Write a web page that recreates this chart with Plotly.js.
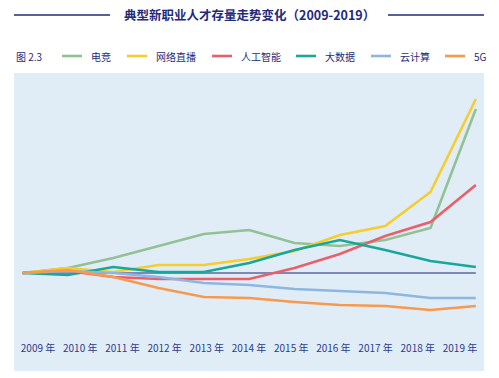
<!DOCTYPE html>
<html>
<head>
<meta charset="utf-8">
<script src="https://cdn.plot.ly/plotly-3.0.1.min.js"></script>
<style>html,body{margin:0;padding:0;background:#fff;}#chart{width:499px;height:378px;}</style>
</head>
<body>
<div id="chart"></div>
<script>
const years = [2009, 2010, 2011, 2012, 2013, 2014, 2015, 2016, 2017, 2018, 2019];
const tickLabels = ["2009 年", "2010 年", "2011 年", "2012 年", "2013 年", "2014 年", "2015 年", "2016 年", "2017 年", "2018 年", "2019 年"];
const seriesNames = ["电竞", "网络直播", "人工智能", "大数据", "云计算", "5G"];
const esports   = [0, 5, 15, 27, 39, 43, 30, 27, 33, 45, 164];
const livestream = [0, 5, 1, 8, 8, 14, 22, 38, 47, 81, 174];
const ai        = [0, 2, -4, -6, -6, -6, 5, 19, 37, 51, 88];
const bigdata   = [0, -2, 6, 1, 1, 10, 23, 33, 23, 12, 6];
const cloud     = [0, 2, 0, -4, -10, -12, -16, -18, -20, -25, -25];
const fiveG     = [0, 3, -4, -15, -24, -25, -29, -32, -33, -37, -33];
const colors = ["#93c196", "#f5cd2c", "#e9606b", "#18a79b", "#8db6e2", "#f59a4e"];
const navy = "#1f2b7b";

const allSeries = [esports, livestream, ai, bigdata, cloud, fiveG];
const traces = allSeries.map((vals, i) => ({
  x: years, y: vals, name: seriesNames[i], type: "scatter", mode: "lines",
  line: {color: colors[i], width: 2.6}, xaxis: "x", yaxis: "y", showlegend: false
}));
// invisible trace to carry the label axis
traces.push({x: years, y: years.map(() => 0), xaxis: "x2", yaxis: "y", mode: "lines",
  line: {width: 0, color: "rgba(0,0,0,0)"}, showlegend: false, hoverinfo: "skip"});

// plot area: left 14px, width 470px, top 73px, height 268px
const W = 470, H = 268, L = 14, T = 73;
const px = v => (v - L) / W;
const py = v => 1 + (T - v) / H;

// custom legend (sample line start positions in px)
const legendStarts = [62, 127, 212, 296, 371, 445];
const legendShapes = seriesNames.map((n, i) => ({
  type: "line", xref: "paper", yref: "paper",
  x0: px(legendStarts[i]), x1: px(legendStarts[i] + 20), y0: py(56), y1: py(56),
  line: {color: colors[i], width: 2.6}
}));
const legendTexts = seriesNames.map((n, i) => ({
  text: n, xref: "paper", yref: "paper", x: px(legendStarts[i] + 27), y: py(56),
  xanchor: "left", yanchor: "middle", showarrow: false, font: {size: 10, color: navy}
}));

const layout = {
  width: 499, height: 378,
  margin: {l: 14, r: 15, t: 73, b: 37},
  paper_bgcolor: "#ffffff",
  plot_bgcolor: "rgba(0,0,0,0)",
  font: {family: "'Noto Sans CJK SC', 'Noto Sans', sans-serif", color: navy},
  showlegend: false,
  xaxis: {range: [2008.81, 2019.18], showgrid: false, zeroline: false, showticklabels: false,
          showline: false, ticks: ""},
  xaxis2: {range: [2008.431, 2019.569], overlaying: "x", side: "bottom", tickvals: years,
           ticktext: tickLabels, showgrid: false, zeroline: false, showline: false, ticks: "",
           tickfont: {size: 10, color: "#2b3a8f"}},
  yaxis: {range: [-68, 200], showgrid: false, zeroline: false, showticklabels: false, showline: false, ticks: ""},
  shapes: [
    {type: "rect", xref: "paper", yref: "paper", x0: 0, x1: 1, y0: -0.112, y1: 1,
     fillcolor: "#e1edf6", line: {width: 0}, layer: "below"},
    {type: "line", xref: "x", yref: "y", x0: years[0], x1: years[years.length - 1], y0: 0, y1: 0,
     line: {color: "#1a2470", width: 1.2}, layer: "below"},
    {type: "line", xref: "paper", yref: "paper", x0: 0, x1: px(110), y0: py(15), y1: py(15),
     line: {color: navy, width: 1.5}},
    {type: "line", xref: "paper", yref: "paper", x0: px(388), x1: 1, y0: py(15), y1: py(15),
     line: {color: navy, width: 1.5}}
  ].concat(legendShapes),
  annotations: [
    {text: "<b>典型新职业人才存量走势变化（2009-2019）</b>", xref: "paper", yref: "paper",
     x: 0.5, y: py(15), xanchor: "center", yanchor: "middle", showarrow: false,
     font: {size: 12.5, color: navy}},
    {text: "图 2.3", xref: "paper", yref: "paper", x: 0, y: py(56),
     xanchor: "left", yanchor: "middle", showarrow: false, font: {size: 10, color: navy}}
  ].concat(legendTexts)
};
Plotly.newPlot("chart", traces, layout, {displayModeBar: false, staticPlot: true});
</script>
</body>
</html>
